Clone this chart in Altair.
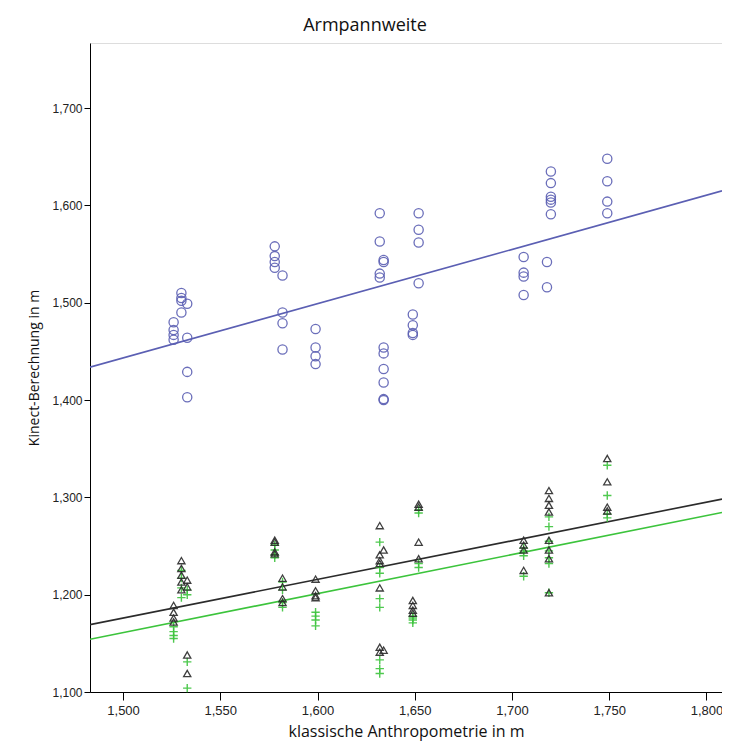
import altair as alt
import pandas as pd

# --- data (x = klassische Anthropometrie, y = Kinect) ---
circle_x = [1.526]*4 + [1.530]*4 + [1.533]*4 + [1.578]*4 + [1.582]*4 + [1.599]*4 + \
           [1.632]*4 + [1.634]*8 + [1.652]*4 + [1.649]*4 + [1.706]*4 + [1.718]*2 + \
           [1.720]*6 + [1.749]*4
circle_y = [1.480, 1.472, 1.467, 1.462,
            1.510, 1.505, 1.502, 1.490,
            1.499, 1.464, 1.429, 1.403,
            1.558, 1.548, 1.542, 1.536,
            1.528, 1.490, 1.479, 1.452,
            1.473, 1.454, 1.445, 1.437,
            1.592, 1.563, 1.526, 1.530,
            1.544, 1.542, 1.454, 1.448, 1.432, 1.418, 1.401, 1.400,
            1.592, 1.575, 1.562, 1.520,
            1.488, 1.477, 1.469, 1.467,
            1.547, 1.531, 1.527, 1.508,
            1.542, 1.516,
            1.635, 1.623, 1.609, 1.606, 1.603, 1.591,
            1.648, 1.625, 1.604, 1.592]

tri_x = [1.526]*4 + [1.530]*5 + [1.533]*4 + [1.578]*4 + [1.582]*4 + [1.599]*4 + \
        [1.632]*7 + [1.634]*2 + [1.649]*4 + [1.652]*4 + [1.706]*4 + [1.719]*8 + [1.749]*4
tri_y = [1.189, 1.182, 1.176, 1.172,
         1.235, 1.227, 1.220, 1.213, 1.205,
         1.215, 1.208, 1.138, 1.119,
         1.256, 1.254, 1.244, 1.242,
         1.217, 1.208, 1.196, 1.192,
         1.216, 1.204, 1.199, 1.197,
         1.271, 1.241, 1.235, 1.232, 1.207, 1.146, 1.141,
         1.246, 1.143,
         1.194, 1.189, 1.184, 1.181,
         1.293, 1.290, 1.254, 1.237,
         1.256, 1.251, 1.246, 1.225,
         1.307, 1.299, 1.292, 1.285, 1.256, 1.246, 1.237, 1.202,
         1.340, 1.316, 1.290, 1.286]

plus_x = [1.526]*4 + [1.530]*4 + [1.533]*4 + [1.578]*4 + [1.582]*4 + [1.599]*4 + \
         [1.632]*8 + [1.649]*4 + [1.652]*4 + [1.706]*4 + [1.719]*7 + [1.749]*4
plus_y = [1.167, 1.162, 1.158, 1.155,
          1.225, 1.217, 1.207, 1.197,
          1.205, 1.200, 1.131, 1.104,
          1.251, 1.246, 1.241, 1.238,
          1.213, 1.205, 1.192, 1.187,
          1.182, 1.178, 1.174, 1.168,
          1.254, 1.228, 1.222, 1.196, 1.187, 1.133, 1.124, 1.119,
          1.176, 1.174, 1.171, 1.178,
          1.287, 1.284, 1.228, 1.232,
          1.245, 1.248, 1.240, 1.219,
          1.280, 1.270, 1.255, 1.245, 1.238, 1.232, 1.202,
          1.333, 1.302, 1.283, 1.279]

x_ticks = [1.50, 1.55, 1.60, 1.65, 1.70, 1.75, 1.80]
y_ticks = [1.1, 1.2, 1.3, 1.4, 1.5, 1.6, 1.7]

X_DOM = [1.483, 1.808]
Y_DOM = [1.100, 1.767]

BLUE = "#5b5fb3"
BLACK = "#2b2b2b"
GREEN = "#3cc43c"

df_c = pd.DataFrame({"x": circle_x, "y": circle_y})
df_t = pd.DataFrame({"x": tri_x, "y": tri_y})
df_p = pd.DataFrame({"x": plus_x, "y": plus_y})

label_expr = "replace(format(datum.value, '.3f'), '.', ',')"

xs = alt.Scale(domain=X_DOM, nice=False, zero=False)
ys = alt.Scale(domain=Y_DOM, nice=False, zero=False)

x_enc = alt.X("x:Q", scale=xs, title="klassische Anthropometrie in m",
              axis=alt.Axis(values=x_ticks, labelExpr=label_expr, grid=False,
                            tickSize=8, domainColor="#000", tickColor="#000",
                            labelFont="Liberation Sans", labelFontSize=13,
                            labelColor="#222", labelPadding=4,
                            titleFont="Open Sans", titleFontSize=16,
                            titleFontWeight="normal", titleColor="#111",
                            titlePadding=6))
y_enc = alt.Y("y:Q", scale=ys, title="Kinect-Berechnung in m",
              axis=alt.Axis(values=y_ticks, labelExpr=label_expr, grid=False,
                            tickSize=6, domainColor="#000", tickColor="#000",
                            labelFont="Liberation Sans", labelFontSize=12,
                            labelColor="#222", labelPadding=2,
                            titleFont="Open Sans", titleFontSize=14,
                            titleFontWeight="normal", titleColor="#111",
                            titlePadding=10))

def fit_line(df, color):
    return alt.Chart(df).transform_regression(
        "x", "y", extent=X_DOM
    ).mark_line(color=color, strokeWidth=1.6, clip=True).encode(x=x_enc, y=y_enc)

circles = alt.Chart(df_c).mark_point(shape="circle", filled=False, color=BLUE,
                                     size=85, strokeWidth=1.3, opacity=0.9).encode(x=x_enc, y=y_enc)
tris = alt.Chart(df_t).mark_point(shape="triangle-up", filled=False, color=BLACK,
                                  size=52, strokeWidth=1.3, opacity=0.9).encode(x=x_enc, y=y_enc)
plus = alt.Chart(df_p).mark_point(shape="M-1,0L1,0M0,-1L0,1", filled=False, color=GREEN,
                                  size=70, strokeWidth=1.4, opacity=0.9).encode(x=x_enc, y=y_enc)

chart = alt.layer(
    fit_line(df_c, BLUE), fit_line(df_p, GREEN), fit_line(df_t, BLACK),
    plus, tris, circles
).properties(
    width=632, height=649,
    title=alt.TitleParams("Armpannweite", font="Open Sans", fontSize=18,
                          fontWeight="normal", color="#111", dx=-41, offset=8),
    autosize=alt.AutoSizeParams(type="none"),
    padding={"left": 82, "top": 35, "right": 0, "bottom": 50},
).configure_view(
    fill="#efefef", stroke="#666", strokeWidth=1.5
).configure(background="white")

chart.save("out.html", embed_options={"renderer": "svg", "actions": False})
